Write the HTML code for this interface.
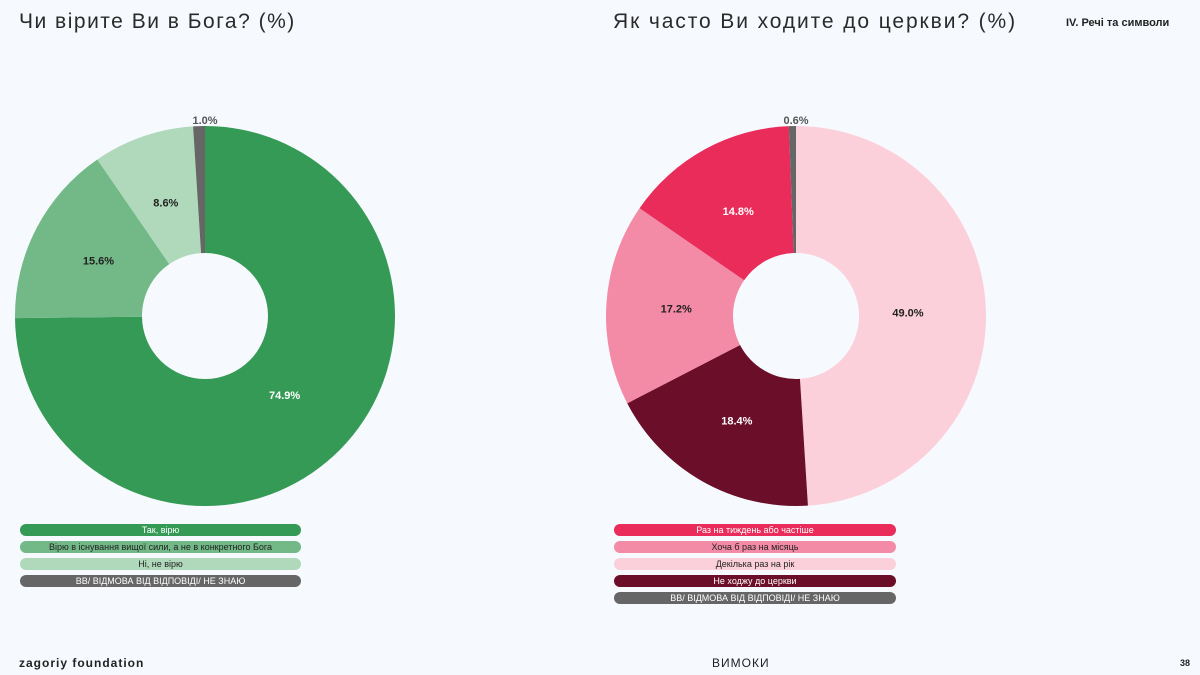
<!DOCTYPE html>
<html><head><meta charset="utf-8">
<style>
body{margin:0;width:1200px;height:675px;background:#f6fafe;font-family:"Liberation Sans","Noto Sans CJK SC",sans-serif;position:relative;overflow:hidden;color:#222}
.t{position:absolute;font-size:21px;color:#2a2a2a;letter-spacing:1.5px}
.leg{position:absolute;height:12px;border-radius:6px;font-size:9px;line-height:12px;text-align:center}
</style></head><body>
<div class="t" style="left:19px;top:10px">Чи вірите Ви в Бога? (%)</div>
<div class="t" style="left:613px;top:10px;letter-spacing:1.9px">Як часто Ви ходите до церкви? (%)</div>
<div style="position:absolute;left:1066px;top:17px;font-size:11px;font-weight:bold">IV. Речі та символи</div>
<svg id="svg" width="1200" height="675" style="position:absolute;left:0;top:0"></svg>
<div id="legs"></div>
<div style="position:absolute;left:19px;top:656px;font-size:12px;font-weight:bold;letter-spacing:1px">zagoriy foundation</div>
<div style="position:absolute;left:712px;top:656px;font-size:12px;letter-spacing:1px">ВИМОКИ</div>
<div style="position:absolute;left:1180px;top:658px;font-size:9px;font-weight:bold">38</div>
<script>
const leftLabels=["Так, вірю","Вірю в існування вищої сили, а не в конкретного Бога","Ні, не вірю","ВВ/ ВІДМОВА ВІД ВІДПОВІДІ/ НЕ ЗНАЮ"];
const leftValues=[74.9,15.6,8.6,1.0];
const leftColors=["#359a55","#72b987","#b0d9bb","#666666"];
const leftTextColors=["#fff","#222","#222","#fff"];
const leftOrder=[0,1,2,3];
const rightLabels=["Раз на тиждень або частіше","Хоча б раз на місяць","Декілька раз на рік","Не ходжу до церкви","ВВ/ ВІДМОВА ВІД ВІДПОВІДІ/ НЕ ЗНАЮ"];
const rightValues=[14.8,17.2,49.0,18.4,0.6];
const rightColors=["#e92c5a","#f38aa6","#fbd0db","#6b0e2a","#666666"];
const rightTextColors=["#fff","#222","#222","#fff","#fff"];
const rightOrder=[2,3,1,0,4];
const NS="http://www.w3.org/2000/svg";
const svg=document.getElementById('svg');
function donut(cx,cy,values,colors,tcols,order,prefix){
  const R=190,r=63,total=values.reduce((a,b)=>a+b,0);
  let a0=0;
  order.forEach(i=>{
    const v=values[i],a1=a0+v/total*2*Math.PI;
    const p=(a,rr)=>[cx+rr*Math.sin(a),cy-rr*Math.cos(a)];
    const [x0,y0]=p(a0,R),[x1,y1]=p(a1,R),[x2,y2]=p(a1,r),[x3,y3]=p(a0,r);
    const lg=(a1-a0)>Math.PI?1:0;
    const path=document.createElementNS(NS,'path');
    path.setAttribute('d',`M${x0},${y0}A${R},${R} 0 ${lg} 1 ${x1},${y1}L${x2},${y2}A${r},${r} 0 ${lg} 0 ${x3},${y3}Z`);
    path.setAttribute('fill',colors[i]);
    
    
    svg.appendChild(path);
    const t=document.createElementNS(NS,'text');
    const am=(a0+a1)/2;let lx,ly;
    const rr=v>40?112:120;
    if(v<3){lx=cx;ly=cy-R-2;}else{[lx,ly]=p(am,rr);ly+=4;}
    t.setAttribute('x',lx);t.setAttribute('y',ly);t.setAttribute('text-anchor','middle');
    t.setAttribute('font-size','11');t.setAttribute('font-weight','bold');
    t.setAttribute('font-family','Liberation Sans, sans-serif');
    t.setAttribute('fill',v<3?'#555':tcols[i]);
    t.textContent=v.toFixed(1)+'%';
    
    
    svg.appendChild(t);
    a0=a1;
  });
}
donut(205,316,leftValues,leftColors,leftTextColors,leftOrder,'left');
donut(796,316,rightValues,rightColors,rightTextColors,rightOrder,'right');
function legend(x,w,labels,colors,tcols,prefix){
  labels.forEach((l,i)=>{
    const d=document.createElement('div');d.className='leg';
    d.style.left=x+'px';d.style.width=w+'px';d.style.top=(524+17*i)+'px';
    d.style.background=colors[i];d.style.color=tcols[i];d.textContent=l;
    
    
    document.getElementById('legs').appendChild(d);
  });
}
legend(20,281,leftLabels,leftColors,leftTextColors,'left');
legend(614,282,rightLabels,rightColors,rightTextColors,'right');
</script>
</body></html>
